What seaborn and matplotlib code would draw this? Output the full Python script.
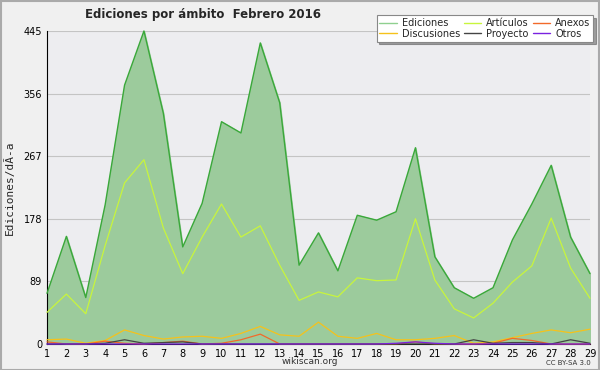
import pandas as pd
import matplotlib.pyplot as plt
import seaborn as sns
from matplotlib.lines import Line2D
from matplotlib.ticker import MultipleLocator

# datos (febrero 2016, dias 1..29)
dias = list(range(1, 30))
ediciones = [72, 153, 66, 198, 368, 445, 328, 138, 200, 316, 300, 428, 343, 112, 158,
             104, 183, 176, 188, 279, 124, 80, 65, 80, 148, 199, 254, 152, 100]
articulos = [45, 71, 43, 140, 229, 262, 165, 100, 152, 199, 152, 168, 112, 62, 74,
             67, 94, 90, 91, 178, 91, 50, 37, 58, 88, 111, 179, 108, 65]
discusiones = [6, 7, 1, 5, 20, 12, 7, 10, 11, 8, 15, 25, 13, 11, 31,
               11, 8, 15, 6, 6, 8, 12, 1, 3, 9, 15, 20, 16, 21]
anexos = [3, 0, 0, 4, 1, 0, 2, 4, 0, 1, 6, 14, 0, 0, 0,
          0, 0, 0, 0, 3, 0, 0, 0, 1, 8, 5, 0, 0, 0]
proyecto = [0, 0, 0, 1, 6, 1, 2, 3, 0, 0, 0, 0, 0, 0, 0,
            0, 0, 0, 0, 0, 0, 0, 6, 1, 2, 2, 0, 6, 1]
otros = [0, 0, 0, 0, 0, 0, 0, 0, 0, 0, 0, 0, 0, 0, 0,
         0, 0, 0, 1, 3, 1, 0, 0, 0, 0, 0, 0, 0, 0]
y_ticks = [0, 89, 178, 267, 356, 445]

df = pd.DataFrame({'dia': dias, 'Ediciones': ediciones, 'Artículos': articulos,
                   'Discusiones': discusiones, 'Anexos': anexos,
                   'Proyecto': proyecto, 'Otros': otros})

colores = {'Ediciones': '#3aa83a', 'Artículos': '#c8f53c', 'Discusiones': '#f5c21b',
           'Anexos': '#f26a2a', 'Proyecto': '#444444', 'Otros': '#7a22e0'}

sns.set_style("white")
plt.rcParams['font.family'] = ['DejaVu Sans']

fig = plt.figure(figsize=(6, 3.7), dpi=100, facecolor='#f0f0f0')
ax = fig.add_axes([0.0783, 0.0703, 0.905, 0.846])
ax.set_facecolor('#ededf0')

ax.fill_between(df['dia'], 0, df['Ediciones'], color='#9ccb9c', zorder=1)
for serie in ['Ediciones', 'Artículos', 'Discusiones', 'Anexos', 'Proyecto', 'Otros']:
    lw = 1.0 if serie == 'Ediciones' else 0.9
    sns.lineplot(data=df, x='dia', y=serie, ax=ax, color=colores[serie], lw=lw,
                 zorder=3, clip_on=False)

ax.set_xlim(1, 29)
ax.set_ylim(0, 445)
ax.set_xticks(dias)
ax.set_xticklabels([str(d) for d in dias], fontsize=7)
ax.set_yticks(y_ticks)
ax.set_yticklabels([str(t) for t in y_ticks], fontsize=7)
ax.yaxis.set_minor_locator(MultipleLocator(22.25))
ax.tick_params(axis='both', direction='out', length=3, width=0.8, pad=0.5, colors='black')
ax.tick_params(axis='y', which='minor', length=3, width=0.8)
ax.grid(axis='y', color='#c4c4c4', lw=0.8, zorder=2)
ax.set_xlabel('')
ax.set_ylabel('Ediciones/dÃ-a', fontsize=8, family='DejaVu Sans Mono', labelpad=6)
for s in ['top', 'right']:
    ax.spines[s].set_visible(False)
ax.spines['left'].set_color('black')
ax.spines['bottom'].set_color('black')

fig.text(0.142, 0.962, 'Ediciones por ámbito  Febrero 2016', fontsize=8.5,
         fontweight='bold', va='center', ha='left')
fig.text(0.516, 0.022, 'wikiscan.org', fontsize=6.5, ha='center', va='center', color='#333333')
fig.text(0.985, 0.018, 'CC BY-SA 3.0', fontsize=5, ha='right', va='center', color='#333333')

orden = ['Ediciones', 'Discusiones', 'Artículos', 'Proyecto', 'Anexos', 'Otros']
handles = [Line2D([], [], color=colores[n] if n != 'Ediciones' else '#8fd08f', lw=1)
           for n in orden]
leg = fig.legend(handles, orden, ncol=3, loc='upper right', bbox_to_anchor=(0.997, 0.972),
                 fontsize=7, frameon=True, fancybox=False, shadow=True,
                 handlelength=1.8, handletextpad=0.5, columnspacing=0.4,
                 labelspacing=0.05, borderpad=0.3)
leg.get_frame().set_edgecolor('#888888')
leg.get_frame().set_facecolor('white')
leg.get_frame().set_linewidth(0.8)

# borde exterior
fig.patches.append(plt.Rectangle((0.001, 0.001), 0.997, 0.996, transform=fig.transFigure,
                                 fill=False, edgecolor='#aaaaaa', lw=1.5))

fig.savefig('out.png', dpi=100, facecolor=fig.get_facecolor())
